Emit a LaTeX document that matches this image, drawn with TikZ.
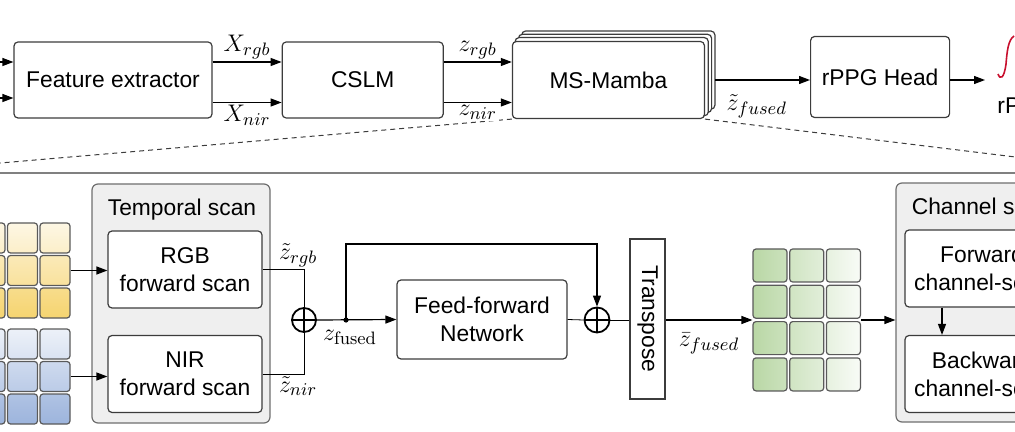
\documentclass[tikz,border=0pt]{standalone}
\usepackage[no-math]{fontspec}
\setmainfont{Liberation Sans}
\usepackage{xcolor}
\usepackage{graphicx}
\usetikzlibrary{positioning, arrows.meta, backgrounds, calc}
\definecolor{boxGray}{HTML}{3C3C3C}
\definecolor{scanFill}{HTML}{EFEFEF}
\definecolor{scanLine}{HTML}{6E6E6E}
\definecolor{cellLine}{HTML}{5A5A5A}
\definecolor{rgbYellow}{HTML}{F4CC55}
\definecolor{nirBlue}{HTML}{8AA6D6}
\definecolor{fuseGreen}{HTML}{8FBF6F}
\definecolor{sigRed}{HTML}{C8102E}

\begin{document}
\begin{tikzpicture}[
    x=0.5pt, y=0.5pt,
    font=\fontsize{11.4}{14}\selectfont,
    box/.style={rectangle, draw=boxGray, rounded corners=2pt, fill=white, align=center, line width=0.6pt, inner sep=0pt},
    scanbox/.style={rectangle, draw=scanLine, rounded corners=3pt, fill=scanFill, line width=0.6pt, inner sep=0pt},
    cell/.style={rectangle, draw=cellLine, rounded corners=1.5pt, line width=0.6pt, minimum size=15pt, inner sep=0pt},
    addnode/.style={circle, draw, line width=0.9pt, minimum size=12pt, inner sep=0pt,
        path picture={\draw[line width=0.9pt] (path picture bounding box.north) -- (path picture bounding box.south)
            (path picture bounding box.west) -- (path picture bounding box.east);}},
    arrow/.style={-{Triangle[length=5.5pt, width=4pt]}, line width=0.6pt},
    dashline/.style={draw=boxGray, dash pattern=on 2.5pt off 2pt, line width=0.5pt},
    lbl/.style={font=\fontsize{12.4}{14}\selectfont, inner sep=1pt}
]
\useasboundingbox (0,0) rectangle (1015,-432);
\clip (0,0) rectangle (1015,-432);

% overview row
\node[box, minimum width=99pt, minimum height=38pt] (fe) at (113,-80) {Feature extractor};
\node[box, minimum width=80.5pt, minimum height=38pt, right=34.5pt of fe] (cslm) {CSLM};
\node[box, minimum width=96pt, minimum height=38.5pt, right=34pt of cslm] (ms) {MS-Mamba};
\node[box, minimum width=69.5pt, minimum height=40.5pt, right=52.5pt of ms, yshift=1.5pt] (head) {rPPG Head};
\node[anchor=west, inner sep=0pt] (sigtxt) at (997,-106) {rPPG};

\begin{scope}[on background layer]
\foreach \k in {3,2,1}
    \draw[fill=white, draw=boxGray, line width=0.6pt, rounded corners=2pt]
        ($(ms.south west)+(3.3*\k,3.3*\k)$) rectangle ($(ms.north east)+(3.3*\k,3.3*\k)$);
\end{scope}

\coordinate (in1) at (-2,-62);
\coordinate (in2) at (-2,-98);
\coordinate (sig) at (985,-80);
\coordinate (dl) at (-2,-163.2);
\coordinate (dr) at (1017,-157.2);
\coordinate (sepl) at (-5,-173.5);
\coordinate (sepr) at (1020,-173.5);

\draw[dashline] (ms.south west) -- (dl);
\draw[dashline] (ms.south east) -- (dr);
\draw[draw=gray, line width=1pt] (sepl) -- (sepr);

\draw[arrow] (in1) -- (in1 -| fe.west);
\draw[arrow] (in2) -- (in2 -| fe.west);
\draw[arrow] ([yshift=9pt]fe.east) -- ([yshift=9pt]cslm.west) node[midway, above, lbl] {$X_{rgb}$};
\draw[arrow] ([yshift=-11.25pt]fe.east) -- ([yshift=-11.25pt]cslm.west) node[midway, below, lbl] {$X_{nir}$};
\draw[arrow] ([yshift=9pt]cslm.east) -- ([yshift=9pt]ms.west) node[midway, above, lbl] {$z_{rgb}$};
\draw[arrow] ([yshift=-11.25pt]cslm.east) -- ([yshift=-11.25pt]ms.west) node[midway, below, lbl, fill=white] {$z_{nir}$};
\draw[arrow] ([xshift=5pt]ms.east) -- (head.west |- ms.east) node[pos=0.44, below=6pt, lbl] {$\tilde{z}_{fused}$};
\draw[arrow] (head.east |- sig) -- (sig);
\draw[sigRed, line width=0.8pt] (998,-74) .. controls (1000,-80) and (1004,-79) .. (1006,-64)
    .. controls (1007,-52) and (1008,-40) .. (1014,-36);

% input grids
\foreach \r in {0,1,2} \foreach \c in {0,1,2} {
    \pgfmathtruncatemacro{\tp}{16+26*\r}
    \pgfmathtruncatemacro{\bt}{32+26*\r}
    \node[cell, top color=rgbYellow!\tp, bottom color=rgbYellow!\bt] (y\r\c) at (-10+32.5*\c,-238-32.5*\r) {};
    \node[cell, top color=nirBlue!\tp, bottom color=nirBlue!\bt] (b\r\c) at (-10+32.5*\c,-344-32.5*\r) {};
}

% temporal scan
\node[scanbox, minimum width=89pt, minimum height=119.5pt] (tscan) at (181,-303.5) {};
\node[anchor=base] (ttitle) at (182,-216) {Temporal scan};
\node[box, minimum width=77pt, minimum height=38.5pt] (rgb) at (185,-269.5) {RGB\\forward scan};
\node[box, minimum width=77pt, minimum height=38.5pt] (nir) at (185,-374) {NIR\\forward scan};
\node[addnode] (sum1) at (304,-320) {};
\coordinate (split) at (346,-320);
\node[box, minimum width=85pt, minimum height=39.5pt] (ffn) at (482,-319.5) {Feed-forward\\Network};
\node[addnode, minimum size=12.5pt] (sum2) at (597,-320) {};
\node[rectangle, draw=boxGray, line width=0.6pt, minimum width=17.5pt, minimum height=80pt, inner sep=0pt] (tr) at (647.5,-319) {\rotatebox{-90}{Transpose}};

\draw[arrow] (y12.east) -- (rgb.west |- y12.east);
\draw[arrow] (b12.east) -- (nir.west |- b12.east);
\draw (rgb.east) -| node[pos=0.43, above, lbl] {$\tilde{z}_{rgb}$} (sum1.north);
\draw (nir.east) -| node[pos=0.43, below, lbl] {$\tilde{z}_{nir}$} (sum1.south);
\draw[arrow] (sum1.east) -- (ffn.west);
\fill (split) circle (1.3pt);
\node[lbl] (zf) at (350,-337) {$z_{\mathrm{fused}}$};
\draw[arrow] (split) -- ++(0,76) -| (sum2.north);
\draw (ffn.east) -- (sum2.west);
\draw (sum2.east) -- (tr.west |- sum2.east);

% fused grid
\foreach \r in {0,1,2,3} \foreach \c in {0,1,2} {
    \pgfmathtruncatemacro{\lf}{62-20*\c}
    \pgfmathtruncatemacro{\rt}{46-20*\c}
    \node[cell, minimum width=17pt, minimum height=16.5pt, left color=fuseGreen!\lf, right color=fuseGreen!\rt] (g\r\c) at (770+36.7*\c,-265.5-36.3*\r) {};
}
\draw[arrow] (tr.east |- sum2.east) -- (g10.west |- sum2.east) node[midway, below=5pt, lbl] {$\bar{z}_{fused}$};

% channel scan
\node[scanbox, minimum width=85.5pt, minimum height=119.5pt] (chan) at (981.5,-302.5) {};
\node[anchor=base] (ctitle) at (981.5,-215) {Channel scan};
\node[box, minimum width=77pt, minimum height=38.5pt] (fwd) at (982,-268.5) {Forward\\channel-scan};
\node[box, minimum width=77pt, minimum height=38.5pt] (bwd) at (982,-374) {Backward\\channel-scan};
\draw[arrow] (g12.east |- sum2.east) -- (chan.west |- sum2.east);
\draw[arrow] ([xshift=-20pt]fwd.south) -- ([xshift=-20pt]bwd.north);
\draw[arrow] ([xshift=20pt]bwd.north) -- ([xshift=20pt]fwd.south);

\end{tikzpicture}
\end{document}
